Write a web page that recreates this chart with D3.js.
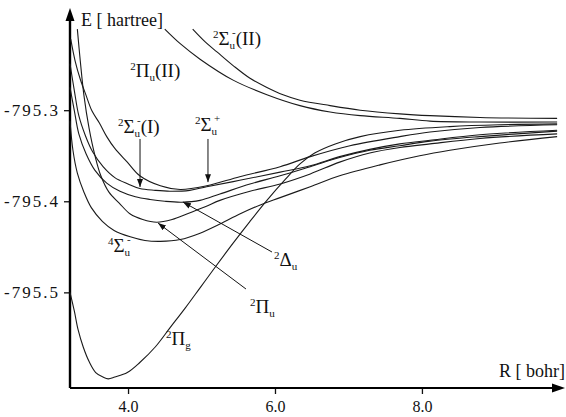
<!DOCTYPE html>
<html>
<head>
<meta charset="utf-8">
<script src="https://d3js.org/d3.v7.min.js"></script>
<style>
body { margin: 0; background: #fff; }
svg text { font-family: "Liberation Serif", "Times New Roman", "DejaVu Serif", serif; fill: #111; }
</style>
</head>
<body>
<div id="chart"></div>
<script>
// potential curves: [R (bohr), E (hartree)]
var piG = [[3.21,-795.500],[3.27,-795.521],[3.32,-795.541],[3.39,-795.560],[3.47,-795.576],[3.56,-795.588],[3.66,-795.593],[3.73,-795.595],[3.82,-795.593],[3.99,-795.588],[4.16,-795.577],[4.37,-795.560],[4.57,-795.539],[4.78,-795.517],[4.98,-795.495],[5.18,-795.473],[5.43,-795.446],[5.66,-795.422],[5.89,-795.399],[6.14,-795.376],[6.34,-795.359],[6.54,-795.347],[6.82,-795.337],[7.16,-795.329],[7.70,-795.322],[8.38,-795.318],[9.06,-795.316],[9.84,-795.315]];
var piU = [[3.31,-795.211],[3.35,-795.246],[3.40,-795.284],[3.47,-795.320],[3.55,-795.350],[3.63,-795.372],[3.74,-795.390],[3.88,-795.402],[4.03,-795.414],[4.20,-795.420],[4.39,-795.423],[4.60,-795.420],[4.80,-795.414],[5.05,-795.406],[5.25,-795.399],[5.66,-795.389],[6.07,-795.381],[6.48,-795.370],[6.88,-795.357],[7.29,-795.347],[7.70,-795.341],[8.11,-795.337],[8.79,-795.331],[9.84,-795.326]];
var sigUplus = [[3.22,-795.222],[3.28,-795.246],[3.35,-795.266],[3.43,-795.284],[3.51,-795.301],[3.61,-795.314],[3.71,-795.329],[3.82,-795.342],[3.99,-795.357],[4.16,-795.372],[4.44,-795.383],[4.71,-795.387],[5.07,-795.383],[5.52,-795.373],[6.07,-795.362],[6.48,-795.351],[7.02,-795.339],[7.70,-795.329],[8.11,-795.324],[8.79,-795.319],[9.84,-795.316]];
var sigUminus1 = [[3.21,-795.249],[3.27,-795.279],[3.33,-795.306],[3.42,-795.328],[3.52,-795.346],[3.66,-795.362],[3.82,-795.374],[4.00,-795.381],[4.16,-795.386],[4.37,-795.388],[4.57,-795.389],[4.84,-795.388],[5.07,-795.384],[5.52,-795.377],[6.07,-795.368],[6.48,-795.361],[6.88,-795.351],[7.29,-795.343],[7.70,-795.337],[8.11,-795.333],[8.79,-795.327],[9.84,-795.322]];
var deltaU = [[3.21,-795.275],[3.27,-795.301],[3.33,-795.326],[3.43,-795.348],[3.55,-795.366],[3.71,-795.380],[3.89,-795.389],[4.10,-795.395],[4.30,-795.398],[4.50,-795.400],[4.73,-795.401],[4.98,-795.399],[5.25,-795.392],[5.66,-795.381],[6.07,-795.372],[6.48,-795.362],[6.88,-795.352],[7.29,-795.344],[7.70,-795.339],[8.11,-795.334],[8.79,-795.329],[9.84,-795.323]];
var quartet = [[3.21,-795.312],[3.25,-795.344],[3.31,-795.369],[3.40,-795.390],[3.50,-795.407],[3.65,-795.422],[3.81,-795.432],[4.03,-795.439],[4.23,-795.443],[4.44,-795.444],[4.71,-795.442],[4.98,-795.435],[5.25,-795.425],[5.52,-795.414],[5.80,-795.404],[6.07,-795.396],[6.48,-795.384],[6.88,-795.372],[7.43,-795.360],[7.97,-795.350],[8.38,-795.344],[9.06,-795.336],[9.84,-795.329]];
var piU2 = [[4.50,-795.211],[4.71,-795.227],[4.98,-795.244],[5.43,-795.267],[5.89,-795.283],[6.34,-795.295],[6.75,-795.302],[7.16,-795.306],[7.70,-795.309],[8.11,-795.312],[8.79,-795.313],[9.84,-795.313]];
var sigUminus2 = [[4.88,-795.211],[5.05,-795.225],[5.21,-795.236],[5.43,-795.251],[5.66,-795.265],[5.89,-795.275],[6.11,-795.283],[6.34,-795.289],[6.75,-795.295],[7.16,-795.300],[7.70,-795.304],[8.11,-795.306],[8.79,-795.308],[9.84,-795.309]];

var xTicks = [4.0, 6.0, 8.0];
var yTicks = [-795.3, -795.4, -795.5];

var width = 566, height = 417;
var serif = "'Liberation Serif', 'Times New Roman', 'DejaVu Serif', serif";

var svg = d3.select("#chart").append("svg")
    .attr("width", width)
    .attr("height", height)
    .attr("font-family", serif);

var x = d3.scaleLinear().domain([3.21, 9.92]).range([70, 563]);
var y = d3.scaleLinear().domain([-795.605, -795.19]).range([388, 10]);

// arrow head for the pointer lines
svg.append("defs").append("marker")
    .attr("id", "tip")
    .attr("viewBox", "0 0 8 6")
    .attr("refX", 8).attr("refY", 3)
    .attr("markerWidth", 8).attr("markerHeight", 6)
    .attr("markerUnits", "userSpaceOnUse")
    .attr("orient", "auto")
  .append("path")
    .attr("d", "M0,0L8,3L0,6z")
    .attr("fill", "#111");

// axes
var gx = svg.append("g")
    .attr("transform", "translate(0," + y.range()[0] + ")")
    .call(d3.axisBottom(x).tickValues(xTicks).tickSize(6).tickPadding(7)
      .tickFormat(function(d) { return d.toFixed(1); }));
gx.attr("font-family", serif);
gx.select(".domain").remove();
gx.selectAll("line").attr("stroke", "#111").attr("stroke-width", 1.3);
gx.selectAll("text").attr("font-size", 16).attr("fill", "#111")
    .style("font-family", serif);

var gy = svg.append("g")
    .attr("transform", "translate(" + x.range()[0] + ",0)")
    .call(d3.axisLeft(y).tickValues(yTicks).tickSize(6).tickPadding(4)
      .tickFormat(function(d) { return d.toFixed(1); }));
gy.attr("font-family", serif);
gy.select(".domain").remove();
gy.selectAll("line").attr("stroke", "#111").attr("stroke-width", 1.3);
gy.selectAll("text").attr("font-size", 17).attr("fill", "#111")
    .style("letter-spacing", "2px")
    .style("font-family", serif);

var x0 = x.range()[0], y0 = y.range()[0];
svg.append("line")
    .attr("x1", x0).attr("y1", y0)
    .attr("x2", x0).attr("y2", 18)
    .attr("stroke", "#000").attr("stroke-width", 2.4);
svg.append("path")
    .attr("d", "M" + x0 + ",8L" + (x0 - 4.5) + ",21L" + (x0 + 4.5) + ",21z")
    .attr("fill", "#000");
svg.append("line")
    .attr("x1", x0).attr("y1", y0)
    .attr("x2", 555).attr("y2", y0)
    .attr("stroke", "#000").attr("stroke-width", 2);
svg.append("path")
    .attr("d", "M565," + y0 + "L552," + (y0 - 4.5) + "L552," + (y0 + 4.5) + "z")
    .attr("fill", "#000");

svg.append("text")
    .attr("x", 81).attr("y", 26)
    .attr("font-size", 18)
    .style("font-family", serif)
    .text("E [ hartree]");
svg.append("text")
    .attr("x", 499).attr("y", 377)
    .attr("font-size", 18)
    .style("font-family", serif)
    .text("R [ bohr]");

// curves
var line = d3.line()
    .x(function(d) { return x(d[0]); })
    .y(function(d) { return y(d[1]); })
    .curve(d3.curveCatmullRom.alpha(0.5));

var curves = [piG, piU, sigUplus, sigUminus1, deltaU, quartet, piU2, sigUminus2];
svg.append("g").selectAll("path")
    .data(curves)
  .enter().append("path")
    .attr("d", line)
    .attr("fill", "none")
    .attr("stroke", "#1a1a1a")
    .attr("stroke-width", 1.1);

// state labels: [pre, letter, sub, sup, post]
function stateLabel(parts, r, e) {
  var t = svg.append("text")
      .attr("x", x(r)).attr("y", y(e))
      .attr("font-size", 19)
      .style("font-family", serif);
  t.append("tspan").attr("font-size", 11).attr("dy", -7).text(parts[0]);
  t.append("tspan").attr("dy", 7).text(parts[1]);
  t.append("tspan").attr("font-size", 11).attr("dy", 4).text(parts[2]);
  var back = -4;
  if (parts[3]) {
    t.append("tspan").attr("font-size", 11).attr("dx", -3).attr("dy", -13).text(parts[3]);
    back = 9;
  }
  if (parts[4]) t.append("tspan").attr("dy", back).text(parts[4]);
}

stateLabel(["2", "\u03a0", "u", "", "(II)"], 4.03, -795.2636);
stateLabel(["2", "\u03a3", "u", "-", "(II)"], 5.156, -795.2284);
stateLabel(["2", "\u03a3", "u", "-", "(I)"], 3.863, -795.3250);
stateLabel(["2", "\u03a3", "u", "+", ""], 4.911, -795.3229);
stateLabel(["4", "\u03a3", "u", "-", ""], 3.727, -795.4557);
stateLabel(["2", "\u0394", "u", "", ""], 5.987, -795.4711);
stateLabel(["2", "\u03a0", "u", "", ""], 5.660, -795.5227);
stateLabel(["2", "\u03a0", "g", "", ""], 4.517, -795.5578);

// pointers from labels to curves
function pointer(r1, e1, r2, e2) {
  svg.append("line")
      .attr("x1", x(r1)).attr("y1", y(e1))
      .attr("x2", x(r2)).attr("y2", y(e2))
      .attr("stroke", "#111").attr("stroke-width", 1)
      .attr("marker-end", "url(#tip)");
}
pointer(4.163, -795.3316, 4.163, -795.3843);
pointer(5.088, -795.3316, 5.088, -795.3790);
pointer(5.959, -795.4557, 4.748, -795.4008);
pointer(5.605, -795.4963, 4.408, -795.4239);
</script>
</body>
</html>
